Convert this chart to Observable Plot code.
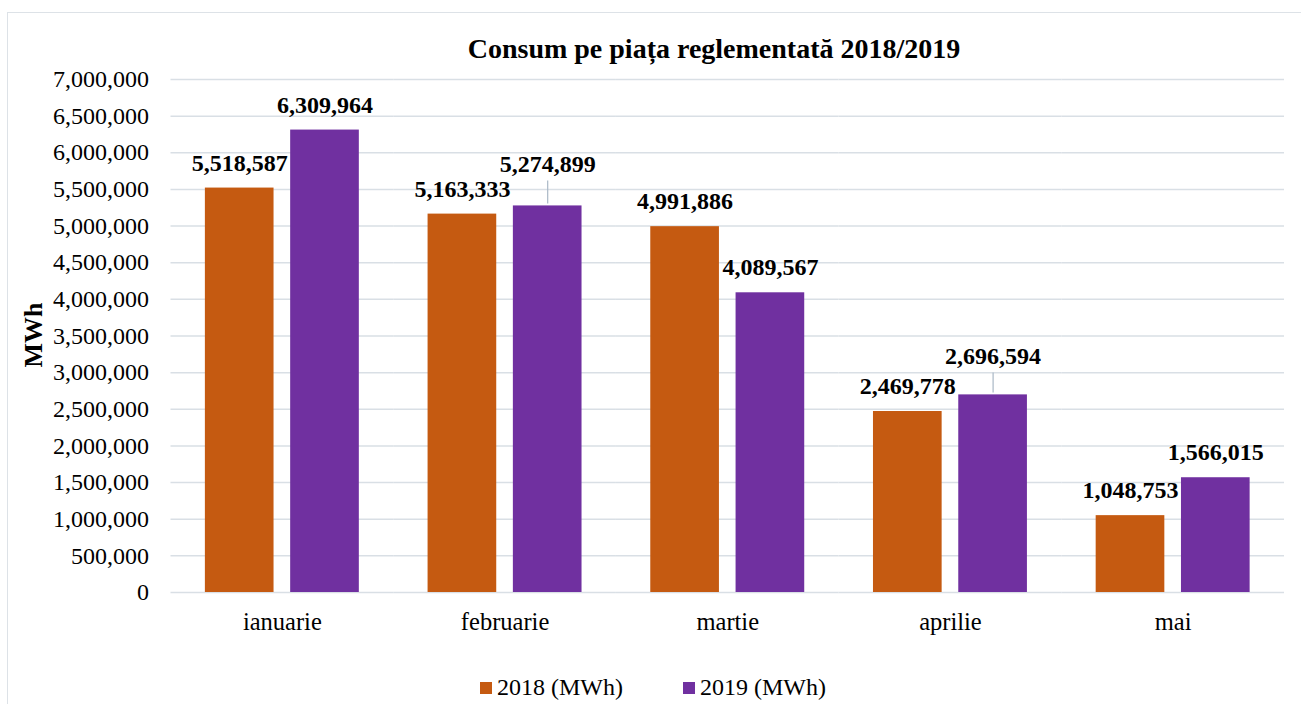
<!DOCTYPE html>
<html><head><meta charset="utf-8">
<script src="https://cdn.jsdelivr.net/npm/d3@7"></script>
<script src="https://cdn.jsdelivr.net/npm/@observablehq/plot@0.6"></script>
<style>
body{margin:0;background:#fff;}
#wrap{position:relative;width:1301px;height:704px;overflow:hidden;font-family:"Liberation Serif","Times New Roman",serif;color:#000;}
#frame{position:absolute;left:7px;top:12px;width:1400px;height:800px;border:1.5px solid #dde2e7;box-sizing:border-box;}
#chart{position:absolute;left:0;top:0;}
#legend{position:absolute;left:480px;top:674px;display:flex;align-items:center;font-size:24px;white-space:nowrap;}
#legend .item{display:flex;align-items:center;}
#legend .sw{width:12px;height:12px;margin-right:5px;}
</style></head>
<body>
<div id="wrap">
  <div id="frame"></div>
  <div id="chart"></div>
  <div id="legend"></div>
</div>
<script>
const title = "Consum pe piața reglementată 2018/2019";
const yTitle = "MWh";
const months = ["ianuarie","februarie","martie","aprilie","mai"];
const series = ["2018 (MWh)","2019 (MWh)"];
const values2018 = [5518587,5163333,4991886,2469778,1048753];
const values2019 = [6309964,5274899,4089567,2696594,1566015];
const yTicks = [0,500000,1000000,1500000,2000000,2500000,3000000,3500000,4000000,4500000,5000000,5500000,6000000,6500000,7000000];
const colors = ["#c55a11","#7030a0"];
// labels moved up with a leader line (extra lift in px)
const liftedLabels = [{month:"februarie",series:"2019 (MWh)",lift:17},{month:"aprilie",series:"2019 (MWh)",lift:14}];

const W = 1301, H = 704, mTop = 79, mBottom = 112, mLeft = 170.5, mRight = 17;
const yMax = 7000000;
const unitsPerPx = yMax / (H - mTop - mBottom);
const baseDy = -25;
const serif = '"Liberation Serif","Times New Roman",serif';

const rows = [];
months.forEach((m,i)=>{
  rows.push({month:m, series:series[0], value:values2018[i]});
  rows.push({month:m, series:series[1], value:values2019[i]});
});
const isLifted = d => liftedLabels.some(l => l.month===d.month && l.series===d.series);
const fmt = d3.format(",");

const textMarks = [
  Plot.text(rows.filter(d=>!isLifted(d)), {fx:"month", x:"series", y:"value", text:d=>fmt(d.value), dy:baseDy, fontWeight:"bold", fontSize:24, fill:"#000"})
];
liftedLabels.forEach(l=>{
  const sel = rows.filter(d=>d.month===l.month && d.series===l.series);
  textMarks.push(Plot.text(sel, {fx:"month", x:"series", y:"value", text:d=>fmt(d.value), dy:baseDy - l.lift, fontWeight:"bold", fontSize:24, fill:"#000"}));
  textMarks.push(Plot.ruleX(sel, {fx:"month", x:"series", y1:d=>d.value + 2*unitsPerPx, y2:d=>d.value + (-baseDy + l.lift - 17)*unitsPerPx, stroke:"#a9b8c6", strokeWidth:1.2}));
});

const chart = Plot.plot({
  width: W, height: H,
  marginTop: mTop, marginBottom: mBottom, marginLeft: mLeft, marginRight: mRight,
  style: {fontFamily: serif, background:"transparent", overflow:"visible"},
  fx: {domain: months, padding: 0, round: false, label: null},
  x: {domain: series, paddingInner: 0.195, paddingOuter: 0.403, round: false, axis: null},
  y: {domain: [0, yMax], label: null},
  color: {domain: series, range: colors},
  marks: [
    Plot.gridY(yTicks, {stroke:"#d9dfe5", strokeOpacity:1, strokeWidth:1.5}),
    Plot.axisY(yTicks, {tickSize:0, tickPadding:22, fontSize:24, tickFormat:d=>fmt(d), label:null}),
    Plot.axisFx({anchor:"bottom", tickSize:0, tickPadding:20, fontSize:24.5, label:null}),
    Plot.barY(rows, {fx:"month", x:"series", y:"value", fill:"series"}),
    ...textMarks
  ]
});
d3.select(chart).selectAll("[aria-label='y-axis tick label'] text, [aria-label='fx-axis tick label'] text").attr("fill","#000");
document.getElementById("chart").appendChild(chart);

const svg = d3.select(chart);
// chart title
svg.append("text").attr("x", 714).attr("y", 58).attr("text-anchor","middle")
  .attr("font-weight","bold").attr("font-size",28).attr("font-family",serif).attr("fill","#000").text(title);
// y-axis title
svg.append("text").attr("transform",`translate(42,335) rotate(-90)`)
  .attr("text-anchor","middle").attr("font-weight","bold").attr("font-size",26)
  .attr("font-family",serif).attr("fill","#000").text(yTitle);

const legend = document.getElementById("legend");
series.forEach((s,i)=>{
  const it = document.createElement("div"); it.className="item";
  if (i>0) it.style.marginLeft = "60px";
  const sw = document.createElement("div"); sw.className="sw"; sw.style.background = colors[i];
  const tx = document.createElement("span"); tx.textContent = s;
  it.appendChild(sw); it.appendChild(tx); legend.appendChild(it);
});
</script>
</body></html>
